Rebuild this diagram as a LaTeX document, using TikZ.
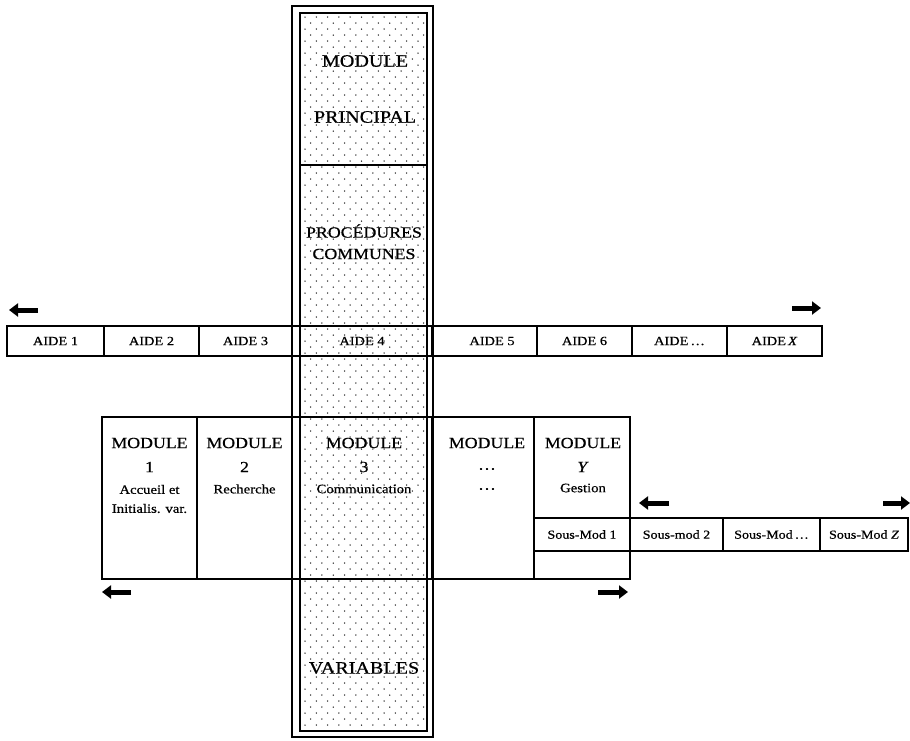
\documentclass[tikz,border=0pt]{standalone}
\usepackage{fontspec}
\setmainfont{Liberation Serif}[FakeStretch=1.15,FakeBold=0.6]
\usetikzlibrary{arrows.meta}
\tikzset{
  cell/.style={draw, line width=1.4pt, inner sep=0pt, outer sep=0pt},
  aidet/.style={font=\fontsize{12.5}{14}\selectfont},
  soust/.style={font=\fontsize{12.2}{14}\selectfont},
  colt/.style={font=\fontsize{17.5}{19}\selectfont, inner sep=1pt},
  colts/.style={font=\fontsize{15.5}{18}\selectfont, inner sep=1pt},
  modt/.style={font=\fontsize{15.5}{17}\selectfont, inner sep=0pt},
  smallt/.style={font=\fontsize{12.8}{19}\selectfont, inner sep=0pt, align=center},
  blockarrow/.style={line width=5pt, -{Triangle[length=9pt,width=13pt]}},
  dotfill/.style={fill=black!90}
}
\begin{document}
\begin{tikzpicture}[x=1pt,y=-1pt]
\useasboundingbox (0,0) rectangle (910,740);
% dotted texture of the central column
\foreach \j in {0,...,118} {
  \pgfmathsetmacro{\yy}{17+\j*6}
  \pgfmathsetmacro{\off}{mod(\j,2)*5.65}
  \foreach \i in {0,...,10} {
    \pgfmathsetmacro{\xx}{305+\i*11.3+\off}
    \fill[dotfill] (\xx,\yy) circle (0.75pt);
  }
}
% AIDE row
\node[cell, minimum width=97pt, minimum height=30pt, aidet] (a1) at (55.5,341) {AIDE 1};
\node[cell, minimum width=95pt, minimum height=30pt, aidet] (a2) at (151.5,341) {AIDE 2};
\node[cell, minimum width=93pt, minimum height=30pt, aidet] (a3) at (245.5,341) {AIDE 3};
\node[cell, minimum width=140pt, minimum height=30pt, aidet] (a4) at (362,341) {AIDE 4};
\node[cell, minimum width=105pt, minimum height=30pt] (a5) at (484.5,341) {};
\node[aidet] (a5t) at (492,341) {AIDE 5};
\node[cell, minimum width=95pt, minimum height=30pt, aidet] (a6) at (584.5,341) {AIDE 6};
\node[cell, minimum width=95pt, minimum height=30pt, aidet] (a7) at (679.5,341) {AIDE\,\ldots};
\node[cell, minimum width=95pt, minimum height=30pt, aidet] (a8) at (774.5,341) {AIDE\,\textit{X}};
% module row
\node[cell, minimum width=95pt, minimum height=162pt] (m1) at (149.5,498) {};
\node[cell, minimum width=95pt, minimum height=162pt] (m2) at (244.5,498) {};
\node[cell, minimum width=140pt, minimum height=162pt] (m3) at (362,498) {};
\node[cell, minimum width=102pt, minimum height=162pt] (m4) at (483,498) {};
\node[cell, minimum width=96pt, minimum height=162pt] (mY) at (582,498) {};
% sub-module row
\node[cell, minimum width=96pt, minimum height=33pt, soust] (s1) at (582,534.5) {Sous-Mod 1};
\node[cell, minimum width=93pt, minimum height=33pt, soust] (s2) at (676.5,534.5) {Sous-mod 2};
\node[cell, minimum width=97pt, minimum height=33pt, soust] (s3) at (771.5,534.5) {Sous-Mod\,\ldots};
\node[cell, minimum width=88pt, minimum height=33pt, soust] (s4) at (864,534.5) {Sous-Mod \textit{Z}};
% module texts
\node[modt] (m1a) at (149.5,443) {MODULE};
\node[modt] (m1b) at (149.5,467) {1};
\node[smallt] (m1c) at (149.5,499) {Accueil et\\Initialis. var.};
\node[modt] (m2a) at (244.5,443) {MODULE};
\node[modt] (m2b) at (244.5,467) {2};
\node[smallt] (m2c) at (244.5,489) {Recherche};
\node[modt] (m3a) at (364,443) {MODULE};
\node[modt] (m3b) at (364,467) {3};
\node[smallt] (m3c) at (364,489) {Communication};
\node[modt] (m4a) at (487,443) {MODULE};
\node[modt] (m4b) at (487,469) {\ldots};
\node[modt] (m4c) at (487,489) {\ldots};
\node[modt] (mYa) at (583,443) {MODULE};
\node[modt] (mYb) at (583,467) {\textit{Y}};
\node[smallt] (mYc) at (583,488) {Gestion};
% central column
\node[draw, line width=2.4pt, minimum width=141pt, minimum height=731pt, inner sep=0pt] (colout) at (362.5,371.5) {};
\node[draw, line width=1.8pt, minimum width=127pt, minimum height=718pt, inner sep=0pt] (colin) at (363.5,372) {};
\coordinate (pl) at (300,165);
\coordinate (pr) at (427,165);
\draw[line width=1.4pt] (pl) -- (pr);
\node[colt] (cp1) at (365,61) {MODULE};
\node[colt] (cp2) at (365,117) {PRINCIPAL};
\node[colts] (cc1) at (364,231) {PROCÉDURES};
\node[colts] (cc2) at (364,254) {COMMUNES};
\node[colt] (cv) at (364,668) {VARIABLES};
% block arrows
\coordinate (la1) at (38,310);  \coordinate (la2) at (9,310);
\coordinate (ra1) at (792,308); \coordinate (ra2) at (821,308);
\coordinate (sa1) at (669,503); \coordinate (sa2) at (639,503);
\coordinate (sb1) at (883,503); \coordinate (sb2) at (910,503);
\coordinate (ma1) at (131,592); \coordinate (ma2) at (102,592);
\coordinate (mb1) at (598,592); \coordinate (mb2) at (628,592);
\draw[blockarrow] (la1) -- (la2);
\draw[blockarrow] (ra1) -- (ra2);
\draw[blockarrow] (sa1) -- (sa2);
\draw[blockarrow] (sb1) -- (sb2);
\draw[blockarrow] (ma1) -- (ma2);
\draw[blockarrow] (mb1) -- (mb2);
\end{tikzpicture}
\end{document}
